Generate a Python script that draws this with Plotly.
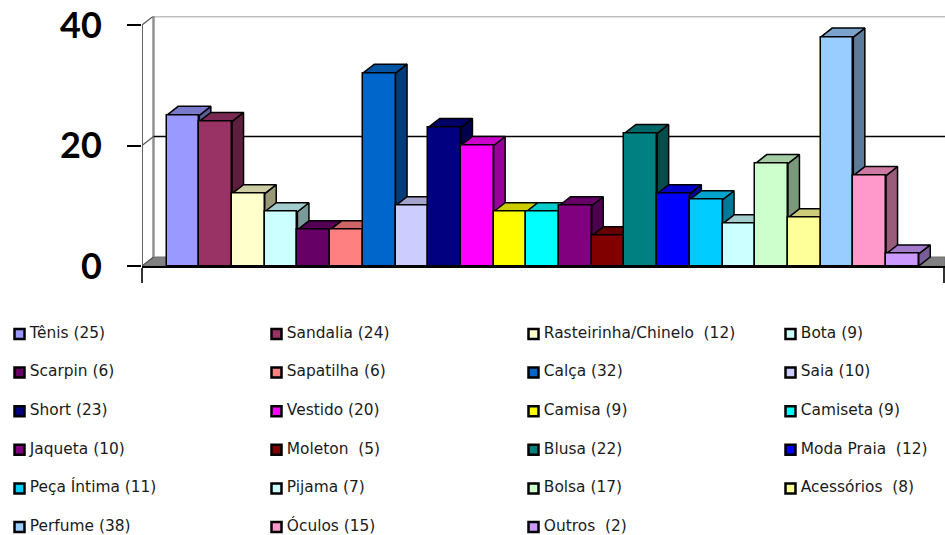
import plotly.graph_objects as go

# Purchases per product category
categories = ["Tênis", "Sandalia", "Rasteirinha/Chinelo", "Bota", "Scarpin", "Sapatilha",
              "Calça", "Saia", "Short", "Vestido", "Camisa", "Camiseta", "Jaqueta", "Moleton",
              "Blusa", "Moda Praia", "Peça Íntima", "Pijama", "Bolsa", "Acessórios",
              "Perfume", "Óculos", "Outros"]
values = [25, 24, 12, 9, 6, 6, 32, 10, 23, 20, 9, 9, 10, 5, 22, 12, 11, 7, 17, 8, 38, 15, 2]
colors = ["#9999FF", "#993366", "#FFFFCC", "#CCFFFF", "#660066", "#FF8080", "#0066CC", "#CCCCFF",
          "#000080", "#FF00FF", "#FFFF00", "#00FFFF", "#800080", "#800000", "#008080", "#0000FF",
          "#00CCFF", "#CCFFFF", "#CCFFCC", "#FFFF99", "#99CCFF", "#FF99CC", "#CC99FF"]
wide_gap = {"Rasteirinha/Chinelo", "Moleton", "Moda Praia", "Acessórios", "Outros"}
y_ticks = [0, 20, 40]

# Page and plot geometry
W, H = 945, 535
LEFT, TOP, BASE = 142, 16.5, 266
UNIT_X = 32.7           # width of one bar
UNIT_Y = 241 / 40       # height of one value unit
X_FIRST = 183           # centre of the first bar
DEPTH_X = 11.5 / UNIT_X # oblique offset of the back faces
DEPTH_Y = 9 / UNIT_Y

x_range = [(LEFT - X_FIRST) / UNIT_X, (W - X_FIRST) / UNIT_X]
y_range = [0, (BASE - TOP) / UNIT_Y]
x_right_tick = (944 - X_FIRST) / UNIT_X


def shade(hex_color, k):
    r, g, b = (int(hex_color[i:i + 2], 16) for i in (1, 3, 5))
    return f"rgb({r * k:.0f},{g * k:.0f},{b * k:.0f})"


fig = go.Figure()


def poly(xs, ys, fill, line="black", width=1.5, closed=True):
    fig.add_trace(go.Scatter(
        x=xs + xs[:1] if closed else xs, y=ys + ys[:1] if closed else ys,
        mode="lines", fill="toself" if closed else None, fillcolor=fill if closed else None,
        line=dict(color=line, width=width), hoverinfo="skip", showlegend=False,
        cliponaxis=False))


# Floor, back wall and left wall
x0, x1 = x_range
poly([x0, x0 + DEPTH_X, x1, x1], [0, DEPTH_Y, DEPTH_Y, 0], "#808080", line="#707070", width=1)
poly([x0 + DEPTH_X, x0 + DEPTH_X], [DEPTH_Y, 40 + DEPTH_Y], None, line="#909090", width=2.5, closed=False)
poly([x0 + DEPTH_X, x1], [40 + DEPTH_Y, 40 + DEPTH_Y], None, line="#808080", width=2.5, closed=False)
poly([x0 + DEPTH_X, x1], [20 + DEPTH_Y, 20 + DEPTH_Y], None, line="black", width=1.5, closed=False)
poly([x0, x0], [0, 40], None, line="#333333", width=1.5, closed=False)
for t in y_ticks:
    poly([x0, x0 + DEPTH_X], [t, t + DEPTH_Y], None,
         line="#555555", width=1.2, closed=False)

# Top and side faces, left to right so nearer shorter bars overlap taller neighbours
for i, (v, c) in enumerate(zip(values, colors)):
    l, r = i - 0.5, i + 0.5
    poly([r, r + DEPTH_X, r + DEPTH_X, r], [0, DEPTH_Y, v + DEPTH_Y, v], shade(c, 0.6))
    poly([l, l + DEPTH_X, r + DEPTH_X, r], [v, v + DEPTH_Y, v + DEPTH_Y, v], shade(c, 0.8))

# Front faces sit on an overlaid pair of axes, above every back face
fig.add_trace(go.Bar(
    x=list(range(len(values))), y=values, width=1, xaxis="x2", yaxis="y2",
    marker=dict(color=colors, line=dict(color="black", width=1.5)),
    text=categories, textposition="none", hovertemplate="%{text}: %{y}<extra></extra>",
    showlegend=False))

# Key below the chart: four columns, filled row by row
key_x = [i % 4 for i in range(len(values))]
key_y = [i // 4 for i in range(len(values))]
key_text = ["\u2009" + f"{n}{'  ' if n in wide_gap else ' '}({v})" for n, v in zip(categories, values)]
fig.add_trace(go.Scatter(
    x=key_x, y=key_y, xaxis="x3", yaxis="y3", mode="markers+text",
    marker=dict(symbol="square", size=10, color=colors, line=dict(color="black", width=2.5)),
    text=key_text, textposition="middle right",
    textfont=dict(family="DejaVu Sans, sans-serif", size=15.4, color="#1a1a1a"),
    hoverinfo="skip", showlegend=False, cliponaxis=False))

KEY_COL, KEY_ROW = 257, 38.6
KEY_X0, KEY_Y0, KEY_TOP = 19.5, 334, 300
hidden = dict(visible=False)

fig.update_layout(
    template="none",
    width=W, height=H, autosize=False,
    margin=dict(l=0, r=0, t=0, b=0),
    paper_bgcolor="white", plot_bgcolor="white", bargap=0,
    xaxis=dict(domain=[LEFT / W, 1], range=x_range, showgrid=False, zeroline=False,
               showline=True, linecolor="black", linewidth=1.5,
               tickmode="array", tickvals=[x_range[0], x_right_tick], ticktext=["", ""],
               ticks="outside", ticklen=15, tickwidth=1.5, tickcolor="#333333"),
    yaxis=dict(domain=[1 - BASE / H, 1 - TOP / H], range=y_range, showgrid=False,
               zeroline=False, showline=False, tickmode="array", tickvals=y_ticks,
               ticks="outside", ticklen=14, tickwidth=1.5, tickcolor="black",
               ticklabelstandoff=18,
               tickfont=dict(family="Lato, Carlito, sans-serif", size=36, color="black",
                             weight="bold")),
    xaxis2=dict(domain=[LEFT / W, 1], range=x_range, overlaying="x", anchor="y2", visible=False),
    yaxis2=dict(domain=[1 - BASE / H, 1 - TOP / H], range=y_range, overlaying="y", anchor="x2",
                visible=False),
    xaxis3=dict(domain=[0, 1], range=[-KEY_X0 / KEY_COL, (W - KEY_X0) / KEY_COL],
                anchor="y3", **hidden),
    yaxis3=dict(domain=[0, 1 - KEY_TOP / H],
                range=[(H - KEY_Y0) / KEY_ROW, (KEY_TOP - KEY_Y0) / KEY_ROW],
                anchor="x3", **hidden),
)

fig.write_html("out.html", config=dict(displayModeBar=False))
